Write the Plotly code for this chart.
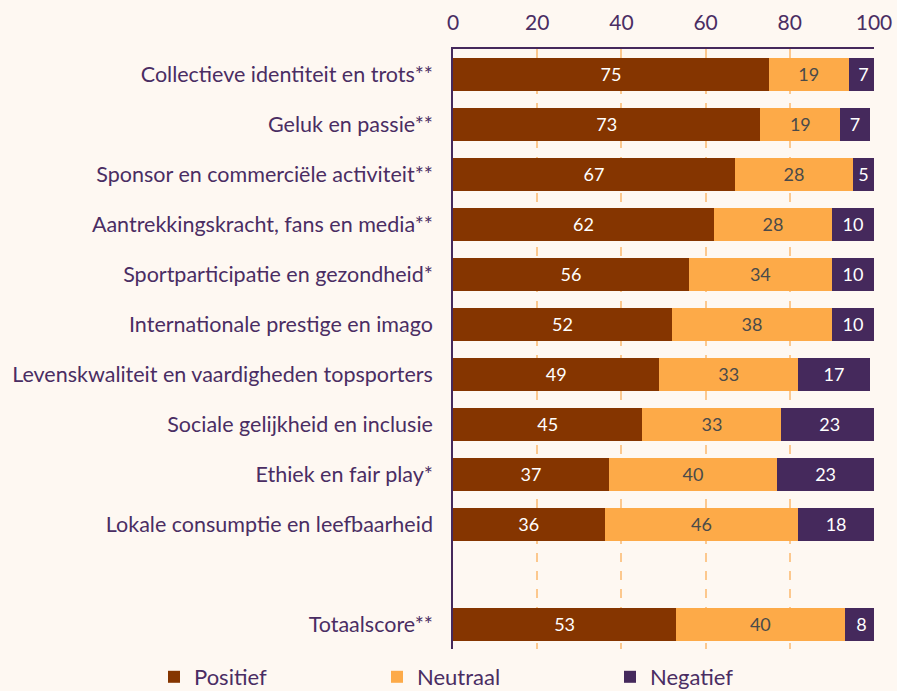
import plotly.graph_objects as go

categories = [
    "Collectieve identiteit en trots**",
    "Geluk en passie**",
    "Sponsor en commerciële activiteit**",
    "Aantrekkingskracht, fans en media**",
    "Sportparticipatie en gezondheid*",
    "Internationale prestige en imago",
    "Levenskwaliteit en vaardigheden topsporters",
    "Sociale gelijkheid en inclusie",
    "Ethiek en fair play*",
    "Lokale consumptie en leefbaarheid",
    " ",
    "Totaalscore**",
]
positief = [75, 73, 67, 62, 56, 52, 49, 45, 37, 36, None, 53]
neutraal = [19, 19, 28, 28, 34, 38, 33, 33, 40, 46, None, 40]
negatief = [7, 7, 5, 10, 10, 10, 17, 23, 23, 18, None, 8]
x_ticks = [0, 20, 40, 60, 80, 100]

BG = "#fef8f2"
PURPLE = "#45295c"
TXT = "#4a2d63"

series = [
    ("Positief", positief, "#853500", "white", "legend", 164),
    ("Neutraal", neutraal, "#fdaa48", "#4a4a4a", "legend2", 387),
    ("Negatief", negatief, "#45295c", "white", "legend3", 620),
]

W, H = 897, 691

fig = go.Figure()
legends = {}
for name, vals, color, tcolor, leg, lx in series:
    fig.add_trace(go.Bar(
        y=categories, x=vals, name=name, orientation="h",
        marker=dict(color=color, line=dict(width=0)),
        text=[("" if v is None else str(v)) for v in vals],
        textposition="inside", insidetextanchor="middle",
        textfont=dict(family="Lato", size=18, color=tcolor),
        constraintext="none",
        hoverinfo="skip",
        legend=leg,
    ))
    legends[leg] = dict(
        orientation="h", xref="container", yref="container",
        x=lx / W, xanchor="left", y=(H - 677) / H, yanchor="middle",
        font=dict(family="Lato", size=22, color=TXT),
        bgcolor="rgba(0,0,0,0)", indentation=-10,
    )

fig.update_layout(
    barmode="stack",
    bargap=0.34,
    width=W, height=H,
    paper_bgcolor=BG, plot_bgcolor=BG,
    margin=dict(l=453, r=23, t=49, b=42, autoexpand=False),
    font=dict(family="Lato", color=TXT),
    showlegend=True,
    xaxis=dict(
        side="top", range=[0, 100], tickvals=x_ticks,
        tickfont=dict(family="Lato", size=21, color=TXT),
        showgrid=True, gridcolor="#fcc88e", griddash="dash", gridwidth=1.5,
        showline=True, linecolor=PURPLE, linewidth=1.5,
        zeroline=False, ticks="", ticklabelstandoff=9,
    ),
    yaxis=dict(
        autorange="reversed", categoryorder="array", categoryarray=categories,
        tickfont=dict(family="Lato", size=21.5, color=TXT),
        showline=True, linecolor=PURPLE, linewidth=1.5,
        showgrid=False, ticks="", ticklabelstandoff=14,
    ),
    **legends,
)

fig.write_html(
    "out.html",
    config={"displayModeBar": False},
    post_script="document.body.style.margin='0';document.body.style.padding='0';",
)
